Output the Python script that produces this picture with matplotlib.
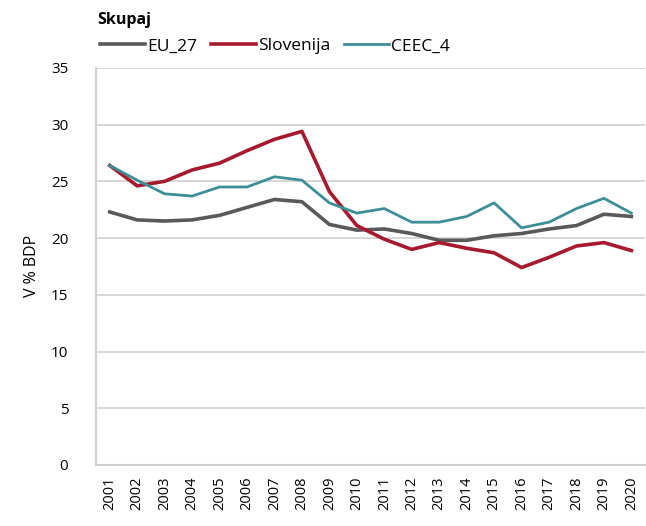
import matplotlib
matplotlib.use('Agg')
import matplotlib.pyplot as plt

years = [str(y) for y in range(2001, 2021)]
eu27 = [22.3, 21.6, 21.5, 21.6, 22.0, 22.7, 23.4, 23.2, 21.2, 20.7,
        20.8, 20.4, 19.8, 19.8, 20.2, 20.4, 20.8, 21.1, 22.1, 21.9]
slovenija = [26.4, 24.6, 25.0, 26.0, 26.6, 27.7, 28.7, 29.4, 24.1, 21.1,
             19.9, 19.0, 19.6, 19.1, 18.7, 17.4, 18.3, 19.3, 19.6, 18.9]
ceec4 = [26.4, 25.1, 23.9, 23.7, 24.5, 24.5, 25.4, 25.1, 23.1, 22.2,
         22.6, 21.4, 21.4, 21.9, 23.1, 20.9, 21.4, 22.6, 23.5, 22.2]
yticks = [0, 5, 10, 15, 20, 25, 30, 35]

plt.rcParams['font.family'] = ['Open Sans', 'DejaVu Sans']

fig = plt.figure(figsize=(6.46, 5.26), dpi=100)
ax = fig.add_axes([0.1486, 0.116, 0.85, 0.755])

x = range(len(years))
ax.plot(x, eu27, color='#595959', lw=2.6, label='EU_27')
ax.plot(x, slovenija, color='#A6192E', lw=2.6, label='Slovenija')
ax.plot(x, ceec4, color='#3E8E97', lw=2.0, label='CEEC_4')

ax.set_xlim(-0.5, len(years) - 0.5)
ax.set_ylim(0, 35)
ax.set_yticks(yticks)
ax.set_xticks(list(x))
ax.set_xticklabels(years, rotation=90, fontsize=10.5)
ax.tick_params(axis='y', labelsize=11, length=0, pad=20)
ax.tick_params(axis='x', length=0, pad=8)
ax.grid(axis='y', color='#d0d0d0', lw=1.2)
ax.set_axisbelow(True)
for s in ['top', 'right']:
    ax.spines[s].set_visible(False)
for s in ['left', 'bottom']:
    ax.spines[s].set_color('#d0d0d0')
    ax.spines[s].set_linewidth(1.5)

ax.set_ylabel('V % BDP', fontsize=11.5, labelpad=8)

fig.text(0.150, 0.962, 'Skupaj', fontsize=11.5, fontweight='bold', va='center', ha='left')
leg = fig.legend(loc='center left', bbox_to_anchor=(0.131, 0.912), ncol=3, frameon=False,
                 fontsize=12.5, handlelength=2.6, handletextpad=0.1, columnspacing=0.8)

fig.savefig('out.png', dpi=100)
